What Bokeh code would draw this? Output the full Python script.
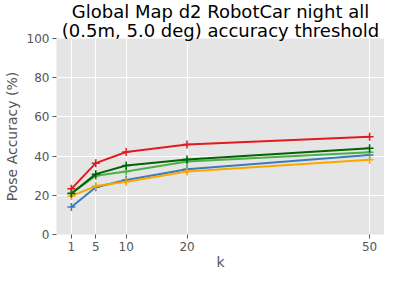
from bokeh.plotting import figure
from bokeh.embed import file_html
from bokeh.resources import INLINE
from bokeh.models import Range1d, FixedTicker, Title

k = [1, 5, 10, 20, 50]
s_blue = [14.0, 24.1, 27.8, 33.3, 40.5]
s_orange = [19.6, 24.7, 26.9, 32.1, 38.1]
s_lightgreen = [21.0, 30.0, 32.2, 37.2, 42.0]
s_darkgreen = [20.9, 30.8, 35.2, 38.3, 44.0]
s_red = [23.3, 36.4, 42.1, 45.9, 49.9]
y_ticks = [0, 20, 40, 60, 80, 100]
title_lines = ["Global Map d2 RobotCar night all", "(0.5m, 5.0 deg) accuracy threshold"]
x_label = "k"
y_label = "Pose Accuracy (%)"

series = [
    (s_blue, "#377eb8"),
    (s_orange, "#ffa500"),
    (s_lightgreen, "#4daf4a"),
    (s_darkgreen, "#006400"),
    (s_red, "#e41a1c"),
]

FONT = "DejaVu Sans"
GREY = "#555555"
W, H = 384, 272
p = figure(width=W, height=H, output_backend="svg", toolbar_location=None,
           title_location=None,
           x_range=Range1d(-1.45, 52.45), y_range=Range1d(0, 100),
           min_border_left=50, min_border_right=0, min_border_top=0, min_border_bottom=0)
p.background_fill_color = "#e5e5e5"
p.border_fill_color = "white"
p.outline_line_color = None

# inner line first (closest to the frame), outer line last
for txt in reversed(title_lines):
    t = Title(text=txt, align="center", text_font=FONT, text_font_size="18px",
              text_font_style="normal", text_color="black", standoff=-4, offset=0)
    p.add_layout(t, "above")

for ax in (p.xaxis[0], p.yaxis[0]):
    ax.axis_line_color = None
    ax.major_tick_line_color = GREY
    ax.major_tick_in = 0
    ax.major_tick_out = 4
    ax.minor_tick_line_color = None
    ax.major_label_text_font = FONT
    ax.major_label_text_font_size = "12px"
    ax.major_label_text_color = GREY
    ax.major_label_standoff = 3
    ax.axis_label_text_font = FONT
    ax.axis_label_text_font_size = "14px"
    ax.axis_label_text_font_style = "normal"
    ax.axis_label_text_color = GREY

p.xaxis.ticker = FixedTicker(ticks=k)
p.yaxis.ticker = FixedTicker(ticks=y_ticks)
p.xaxis.axis_label = x_label
p.yaxis.axis_label = y_label
p.xaxis.axis_label_standoff = 0
p.yaxis.axis_label_standoff = 4

p.grid.grid_line_color = "white"
p.grid.grid_line_width = 1

for vals, c in series:
    p.line(k, vals, line_color=c, line_width=2)
    p.scatter(k, vals, marker="cross", size=8, line_color=c, line_width=1.5)

open("out.html", "w").write(file_html(p, INLINE))
